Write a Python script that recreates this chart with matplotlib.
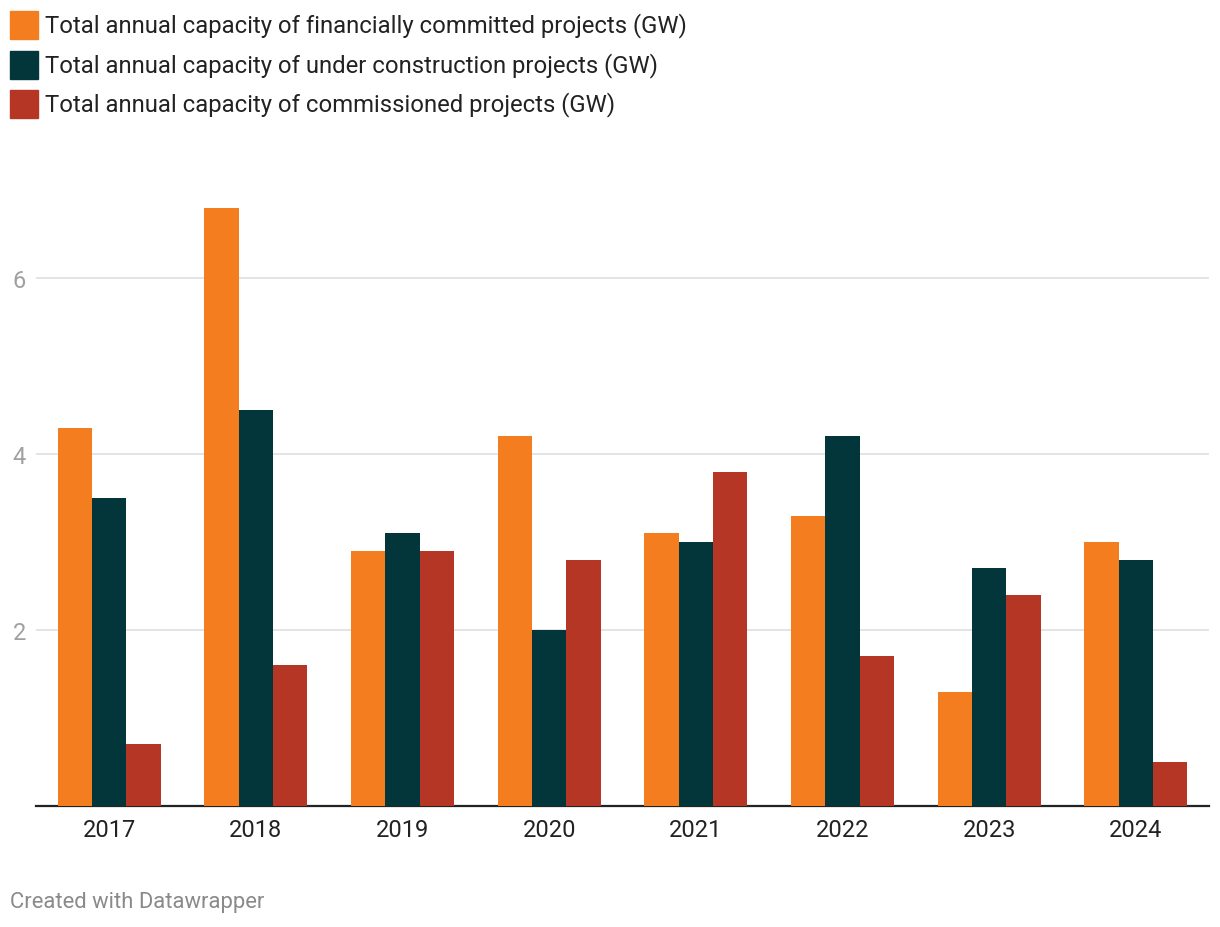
import matplotlib.pyplot as plt
import numpy as np
from matplotlib.patches import Rectangle

plt.rcParams['font.family'] = ['Roboto', 'DejaVu Sans']

years = ['2017', '2018', '2019', '2020', '2021', '2022', '2023', '2024']
committed = [4.3, 6.8, 2.9, 4.2, 3.1, 3.3, 1.3, 3.0]
under_construction = [3.5, 4.5, 3.1, 2.0, 3.0, 4.2, 2.7, 2.8]
commissioned = [0.7, 1.6, 2.9, 2.8, 3.8, 1.7, 2.4, 0.5]

series_labels = [
    'Total annual capacity of financially committed projects (GW)',
    'Total annual capacity of under construction projects (GW)',
    'Total annual capacity of commissioned projects (GW)',
]
colors = ['#f47d20', '#02363a', '#b53624']

fig = plt.figure(figsize=(12.2, 9.28), dpi=100)
ax = fig.add_axes([36/1220, (928-807)/928, 1173/1220, (807-191)/928])

x = np.arange(len(years))
w = 0.234
for i, (vals, c) in enumerate(zip([committed, under_construction, commissioned], colors)):
    ax.bar(x + (i - 1) * w, vals, width=w, color=c, zorder=3, linewidth=0)

ax.set_xlim(-0.5, len(years) - 0.5)
ax.set_ylim(0, 7)
ax.set_yticks([2, 4, 6])
ax.yaxis.grid(True, color='#e2e2e2', linewidth=1.3, zorder=0)
ax.set_axisbelow(True)
for s in ['top', 'right', 'left']:
    ax.spines[s].set_visible(False)
ax.spines['bottom'].set_color('#222222')
ax.spines['bottom'].set_linewidth(1.6)
ax.set_xticks(x)
ax.set_xticklabels(years, fontsize=17, color='#222222')
ax.tick_params(axis='x', length=0, pad=9)
ax.tick_params(axis='y', length=0, labelsize=17, labelcolor='#a0a0a0')
for lbl in ax.get_yticklabels():
    lbl.set_horizontalalignment('left')
ax.yaxis.set_tick_params(pad=17)

# Legend
for i, (lab, c) in enumerate(zip(series_labels, colors)):
    yc = 26 + i * 39.5
    fig.patches.append(Rectangle((10/1220, (928 - yc - 14)/928), 28/1220, 28/928,
                                 transform=fig.transFigure, color=c, figure=fig))
    fig.text(45/1220, (928 - yc)/928, lab, fontsize=17.2, color='#222222', va='center', ha='left')

fig.text(10/1220, (928 - 903)/928, 'Created with Datawrapper', fontsize=15.8, color='#8a8a8a',
         va='center', ha='left')

fig.savefig('out.png', dpi=100, facecolor='white')
